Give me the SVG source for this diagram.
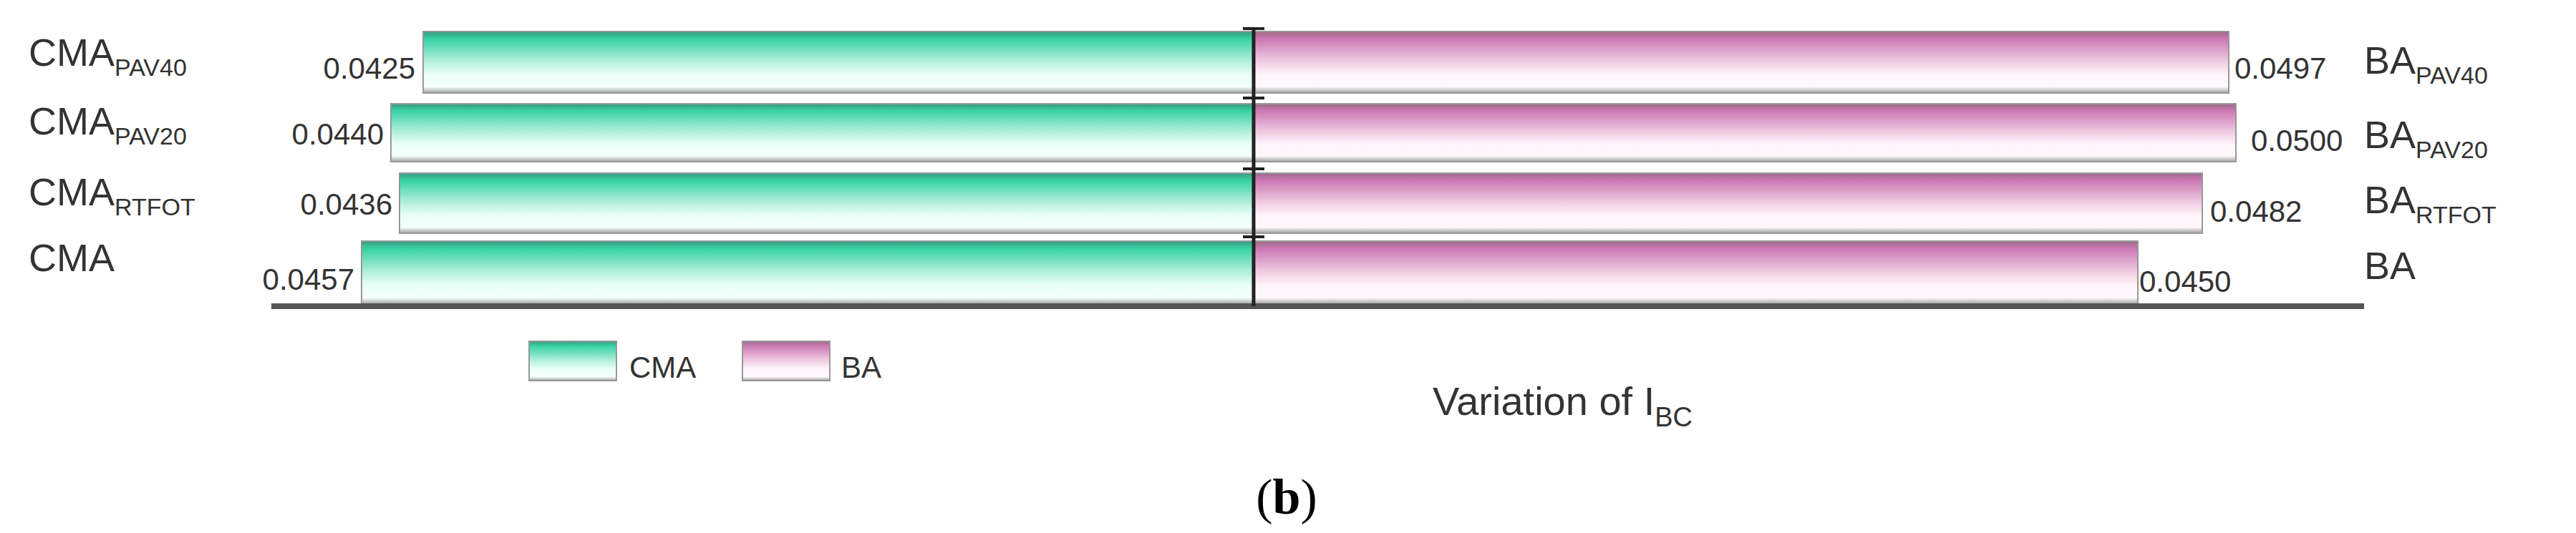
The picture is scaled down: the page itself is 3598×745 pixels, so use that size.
<svg xmlns="http://www.w3.org/2000/svg" width="3598" height="745" viewBox="0 0 3598 745">
<defs>
<linearGradient id="g" x1="0" y1="0" x2="0" y2="1">
<stop offset="0" stop-color="#3a9a80"/><stop offset="0.12" stop-color="#36d2a4"/><stop offset="0.45" stop-color="#a8ecd6"/><stop offset="0.7" stop-color="#eafff9"/><stop offset="0.9" stop-color="#f4fffc"/><stop offset="1" stop-color="#a0a0a0"/>
</linearGradient>
<linearGradient id="p" x1="0" y1="0" x2="0" y2="1">
<stop offset="0" stop-color="#9a6a88"/><stop offset="0.12" stop-color="#cc78b4"/><stop offset="0.45" stop-color="#ecc4de"/><stop offset="0.7" stop-color="#fff4fa"/><stop offset="0.9" stop-color="#fff8fc"/><stop offset="1" stop-color="#a0a0a0"/>
</linearGradient>
<style>
.t{font-family:"Liberation Sans",Arial,sans-serif;fill:#333}
.l{font-size:54px}.v{font-size:42px}.s{font-size:34px}
.bg{fill:url(#g);stroke:#999;stroke-width:2}
.bp{fill:url(#p);stroke:#999;stroke-width:2}
</style>
</defs>
<rect width="3598" height="745" fill="#fff"/>
<g id="bars">
<rect class="bg" x="591" y="44" width="1160" height="86"/>
<rect class="bg" x="546" y="145" width="1205" height="81"/>
<rect class="bg" x="558" y="242" width="1193" height="84"/>
<rect class="bg" x="505" y="337" width="1246" height="88"/>
<rect class="bp" x="1751" y="44" width="1362" height="86"/>
<rect class="bp" x="1751" y="145" width="1372" height="81"/>
<rect class="bp" x="1751" y="242" width="1325" height="84"/>
<rect class="bp" x="1751" y="337" width="1235" height="88"/>
</g>
<g id="axes" stroke="#222">
<line x1="379" y1="428" x2="3302" y2="428" stroke="#555" stroke-width="8"/>
<line x1="1751" y1="40" x2="1751" y2="428" stroke-width="5"/>
<path d="M1736 40H1766M1736 137H1766M1736 236H1766M1736 331H1766" stroke-width="4"/>
</g>
<g id="labels" class="t">
<text class="l" x="40" y="92">CMA<tspan class="s" dy="14">PAV40</tspan></text>
<text class="l" x="40" y="188">CMA<tspan class="s" dy="14">PAV20</tspan></text>
<text class="l" x="40" y="287">CMA<tspan class="s" dy="14">RTFOT</tspan></text>
<text class="l" x="40" y="379">CMA</text>
<text class="l" x="3302" y="103">BA<tspan class="s" dy="14">PAV40</tspan></text>
<text class="l" x="3302" y="207">BA<tspan class="s" dy="14">PAV20</tspan></text>
<text class="l" x="3302" y="298">BA<tspan class="s" dy="14">RTFOT</tspan></text>
<text class="l" x="3302" y="390">BA</text>
</g>
<g id="values" class="t v">
<text x="580" y="110" text-anchor="end">0.0425</text>
<text x="536" y="202" text-anchor="end">0.0440</text>
<text x="548" y="300" text-anchor="end">0.0436</text>
<text x="495" y="405" text-anchor="end">0.0457</text>
<text x="3121" y="110">0.0497</text>
<text x="3144" y="211">0.0500</text>
<text x="3087" y="310">0.0482</text>
<text x="2988" y="408">0.0450</text>
</g>
<g id="legend">
<rect class="bg" x="739" y="477" width="122" height="55"/>
<text class="t v" x="879" y="528">CMA</text>
<rect class="bp" x="1037" y="477" width="122" height="55"/>
<text class="t v" x="1175" y="528">BA</text>
</g>
<text class="t" x="2001" y="580" font-size="56">Variation of I<tspan font-size="38" dy="16">BC</tspan></text>
<text x="1797" y="718" text-anchor="middle" font-family="Liberation Serif,serif" font-size="70" fill="#000">(<tspan font-weight="bold">b</tspan>)</text>
</svg>
